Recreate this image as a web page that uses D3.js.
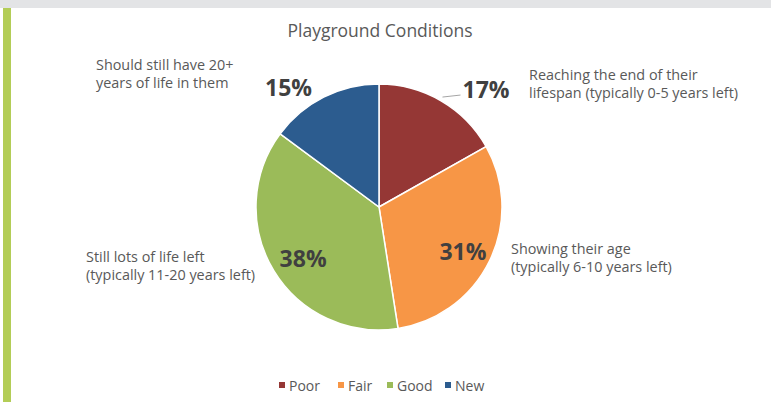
<!DOCTYPE html>
<html>
<head>
<meta charset="utf-8">
<script src="https://cdn.jsdelivr.net/npm/d3@7"></script>
<style>
  body { margin: 0; background: #fff; }
  svg { display: block; font-family: 'Open Sans', sans-serif; }
</style>
</head>
<body>
<svg width="771" height="402"></svg>
<script>
(function (d3) {
  'use strict';

  // chart values
  const categories = ['Poor', 'Fair', 'Good', 'New'];
  const percents = [17, 31, 38, 15];
  const colors = ['#953735', '#f79646', '#9bbb59', '#2c5c8f'];
  const descriptions = [
    ['Reaching the end of their', 'lifespan (typically 0-5 years left)'],
    ['Showing their age', '(typically 6-10 years left)'],
    ['Still lots of life left', '(typically 11-20 years left)'],
    ['Should still have 20+', 'years of life in them']
  ];

  const svg = d3.select('svg');
  const width = +svg.attr('width');
  const height = +svg.attr('height');

  // page frame: grey band on top, green bar on the left
  svg.append('rect').attr('x', 0).attr('y', 0).attr('width', width).attr('height', 8).attr('fill', '#e3e4e6');
  svg.append('rect').attr('x', 3).attr('y', 8).attr('width', 8).attr('height', height - 8).attr('fill', '#b3cd57');

  svg.append('text')
    .attr('x', 380).attr('y', 37)
    .attr('text-anchor', 'middle')
    .attr('font-size', 17.5)
    .attr('fill', '#595959')
    .text('Playground Conditions');

  const cx = 379, cy = 207, r = 123;
  const data = categories.map((c, i) => ({ cat: c, value: percents[i], color: colors[i], desc: descriptions[i] }));

  const pie = d3.pie().sort(null).value(d => d.value);
  const arcs = pie(data);
  const arc = d3.arc().innerRadius(0).outerRadius(r);
  const innerLabelArc = d3.arc().innerRadius(r * 0.74).outerRadius(r * 0.74);
  const outerLabelArc = d3.arc().innerRadius(r * 1.12).outerRadius(r * 1.12);

  const g = svg.append('g').attr('transform', `translate(${cx},${cy})`);

  g.selectAll('path.slice').data(arcs)
    .enter().append('path')
      .attr('class', 'slice')
      .attr('d', arc)
      .attr('fill', d => d.data.color)
      .attr('stroke', '#fff')
      .attr('stroke-width', 1.5);

  // percentage labels: big slices inside, small slices outside
  g.selectAll('text.pct').data(arcs)
    .enter().append('text')
      .attr('class', 'pct')
      .attr('font-size', 23)
      .attr('font-weight', 'bold')
      .attr('fill', '#404040')
      .attr('dominant-baseline', 'central')
      .attr('text-anchor', d => d.data.value >= 25 ? 'middle' : (arcs.indexOf(d) === 0 ? 'start' : 'end'))
      .attr('transform', d => {
        if (d.data.value >= 25) {
          const [x, y] = innerLabelArc.centroid(d);
          return `translate(${x + 2},${y + 4})`;
        }
        const [x, y] = outerLabelArc.centroid(d);
        return arcs.indexOf(d) === 0 ? `translate(${x + 14},${y + 1})` : `translate(${x - 5},${y + 3})`;
      })
      .text(d => d.data.value + '%');

  // leader line for the first slice
  const p0 = outerLabelArc.centroid(arcs[0]);
  g.append('line')
    .attr('x1', p0[0] - 6).attr('y1', p0[1] + 9)
    .attr('x2', p0[0] + 12).attr('y2', p0[1] + 7)
    .attr('stroke', '#a6a6a6').attr('stroke-width', 1);

  // descriptive labels
  const descPos = [
    { x: 529, y: 80 },
    { x: 511, y: 254 },
    { x: 86, y: 262 },
    { x: 96, y: 70 }
  ];
  data.forEach((d, i) => {
    svg.selectAll(null).data(d.desc)
      .enter().append('text')
        .attr('x', descPos[i].x)
        .attr('y', (line, j) => descPos[i].y + j * 18)
        .attr('font-size', 14.4)
        .attr('fill', '#595959')
        .text(line => line);
  });

  // legend
  const legendX = [279, 338, 387, 445];
  const legend = svg.selectAll('g.legend').data(data)
    .enter().append('g')
      .attr('class', 'legend')
      .attr('transform', (d, i) => `translate(${legendX[i]},385)`);
  legend.append('rect')
    .attr('x', 0).attr('y', -3).attr('width', 6).attr('height', 6)
    .attr('fill', d => d.color);
  legend.append('text')
    .attr('x', 10).attr('y', 0)
    .attr('dominant-baseline', 'central')
    .attr('font-size', 14)
    .attr('fill', '#595959')
    .text(d => d.cat);

}(d3));
</script>
</body>
</html>
